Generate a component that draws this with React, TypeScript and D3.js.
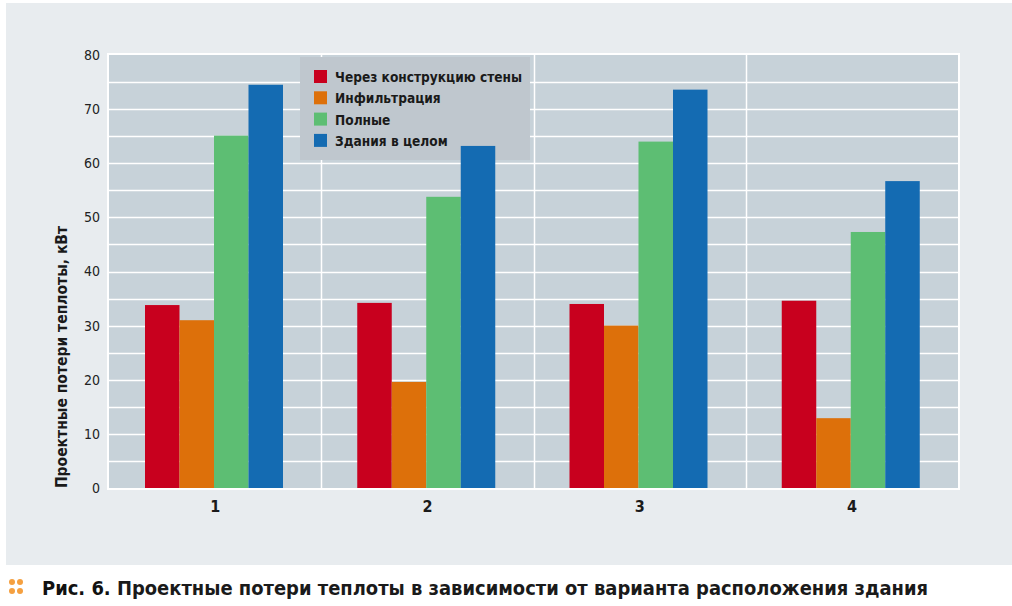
import React, { useEffect, useRef } from 'react';
import * as d3 from "d3";

const categories = ["1", "2", "3", "4"];
const seriesNames = ["Через конструкцию стены", "Инфильтрация", "Полные", "Здания в целом"];
const wallValues = [33.8, 34.2, 34.0, 34.6];
const infiltrationValues = [31.0, 19.6, 30.0, 12.9];
const totalValues = [65.1, 53.8, 64.0, 47.3];
const buildingValues = [74.5, 63.2, 73.6, 56.7];
const yTicks = [0, 10, 20, 30, 40, 50, 60, 70, 80];
const yAxisTitle = "Проектные потери теплоты, кВт";
const captionBold = "Рис. 6.";
const captionText = "Проектные потери теплоты в зависимости от варианта расположения здания";

const colors = ["#c8001e", "#dd700a", "#5dbe73", "#146bb2"];
const condensed = "'DejaVu Sans Condensed', 'Liberation Sans Narrow', 'Roboto Condensed', sans-serif";

export default function App() {
    const svgRef = useRef<SVGSVGElement>(null);

    useEffect(() => {
        const W = 1012, H = 606;
        const plot = { left: 109, right: 958, top: 55, bottom: 488 };
        const series = [wallValues, infiltrationValues, totalValues, buildingValues];

        const svg = d3.select(svgRef.current);
        svg.selectAll("*").remove();
        svg.attr("width", W).attr("height", H);

        svg.append("rect").attr("width", W).attr("height", H).attr("fill", "#ffffff");
        // outer panel
        svg.append("rect").attr("x", 6).attr("y", 3).attr("width", W - 6).attr("height", 562).attr("fill", "#e8ecef");

        const x0 = d3.scaleBand().domain(categories).range([plot.left, plot.right]);
        const x1 = d3.scaleBand().domain(seriesNames).range([36, 36 + 138]);
        const y = d3.scaleLinear().domain([0, 80]).range([plot.bottom, plot.top]);

        // plot frame + bg
        svg.append("rect")
            .attr("x", plot.left - 2).attr("y", plot.top - 2)
            .attr("width", plot.right - plot.left + 4).attr("height", plot.bottom - plot.top + 4)
            .attr("fill", "#ffffff");
        svg.append("rect")
            .attr("x", plot.left).attr("y", plot.top)
            .attr("width", plot.right - plot.left).attr("height", plot.bottom - plot.top)
            .attr("fill", "#c7d2d9");

        // grid every 5
        const gridVals = d3.range(5, 80, 5);
        svg.append("g").selectAll("line").data(gridVals).enter().append("line")
            .attr("x1", plot.left).attr("x2", plot.right)
            .attr("y1", (d) => Math.round(y(d)) + 0.5).attr("y2", (d) => Math.round(y(d)) + 0.5)
            .attr("stroke", "#ffffff").attr("stroke-width", 1.5);
        svg.append("g").selectAll("line").data(categories.slice(1)).enter().append("line")
            .attr("x1", (d) => Math.round(x0(d) || 0) + 0.5).attr("x2", (d) => Math.round(x0(d) || 0) + 0.5)
            .attr("y1", plot.top).attr("y2", plot.bottom)
            .attr("stroke", "#ffffff").attr("stroke-width", 1.5);

        // legend (sits under the bars)
        const lg = svg.append("g").attr("transform", "translate(300,57)");
        lg.append("rect").attr("width", 230).attr("height", 103).attr("fill", "#bfc7ce");
        seriesNames.forEach((s, i) => {
            lg.append("rect").attr("x", 14).attr("y", 13 + i * 21.3).attr("width", 13).attr("height", 13).attr("fill", colors[i]);
            lg.append("text").attr("x", 35).attr("y", 25 + i * 21.3)
                .attr("font-family", condensed)
                .attr("font-weight", "bold")
                .attr("font-size", 13.6)
                .attr("fill", "#1a1a1a")
                .text(s);
        });

        // bars
        categories.forEach((c, ci) => {
            const g = svg.append("g").attr("transform", `translate(${x0(c)},0)`);
            g.selectAll("rect").data(seriesNames).enter().append("rect")
                .attr("x", (s) => x1(s) || 0)
                .attr("width", x1.bandwidth())
                .attr("y", (s, si) => y(series[si][ci]))
                .attr("height", (s, si) => y(0) - y(series[si][ci]))
                .attr("fill", (s, si) => colors[si]);
        });

        // y axis labels
        const yAxis = svg.append("g")
            .attr("transform", `translate(${plot.left - 9},0)`)
            .call(d3.axisLeft(y).tickValues(yTicks).tickSize(0).tickPadding(0));
        yAxis.select("path").remove();
        yAxis.selectAll("text")
            .attr("font-family", condensed)
            .attr("font-size", 14)
            .attr("fill", "#222")
            .style("font-stretch", "condensed");

        // x axis labels
        const xAxis = svg.append("g")
            .attr("transform", `translate(0,${plot.bottom + 10})`)
            .call(d3.axisBottom(x0).tickSize(0).tickPadding(0));
        xAxis.select("path").remove();
        xAxis.selectAll("text")
            .attr("dy", "0.9em")
            .attr("font-family", condensed)
            .attr("font-weight", "bold")
            .attr("font-size", 16)
            .attr("fill", "#1a1a1a");

        // y axis title
        svg.append("text")
            .attr("transform", `translate(67,357) rotate(-90)`)
            .attr("text-anchor", "middle")
            .attr("font-family", condensed)
            .attr("font-weight", "bold")
            .attr("font-size", 15.5)
            .attr("fill", "#1a1a1a")
            .text(yAxisTitle);

        // caption
        const dots = svg.append("g").attr("fill", "#f5a040");
        [[12, 582], [20, 582], [12, 591], [20, 591]].forEach(([cx, cy]) => {
            dots.append("circle").attr("cx", cx).attr("cy", cy).attr("r", 3);
        });
        const cap = svg.append("text")
            .attr("x", 42).attr("y", 595)
            .attr("font-family", condensed)
            .attr("font-weight", "bold")
            .attr("font-size", 20)
            .attr("fill", "#1a1a1a");
        cap.append("tspan").attr("fill", "#111").text(captionBold + " ");
        cap.append("tspan").text(captionText);
        const len = (cap.node() as SVGTextElement).getComputedTextLength();
        if (len > 0) cap.attr("textLength", 886).attr("lengthAdjust", "spacingAndGlyphs");
    }, []);

    return <svg ref={svgRef} style={{ display: "block", position: "absolute", left: 0, top: 0 }} />;
}
